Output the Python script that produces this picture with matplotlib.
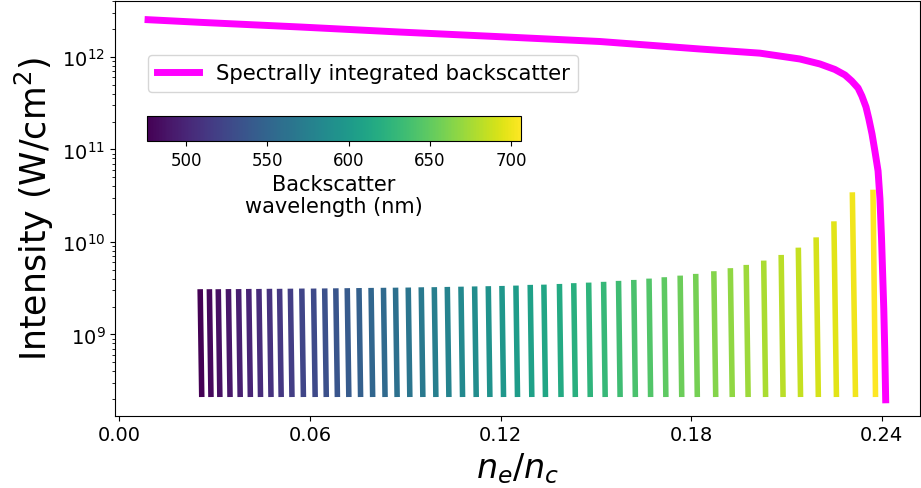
import matplotlib
matplotlib.use("Agg")
import matplotlib.pyplot as plt
from matplotlib.colors import Normalize
from matplotlib.cm import ScalarMappable
from matplotlib.ticker import FixedLocator, FormatStrFormatter

# Spectrally integrated backscatter intensity vs density
ne_int = [0.0090, 0.0253, 0.0568, 0.0883, 0.1176, 0.1512, 0.1827, 0.2016,
          0.2142, 0.2205, 0.2252, 0.2284, 0.2305, 0.2325, 0.2337, 0.2350,
          0.2359, 0.2369, 0.2378, 0.2388, 0.2394, 0.2399, 0.2403, 0.2406,
          0.2409, 0.2412]
I_int = [2.53e12, 2.37e12, 2.11e12, 1.86e12, 1.67e12, 1.47e12, 1.22e12, 1.10e12,
         9.51e11, 8.40e11, 7.33e11, 6.38e11, 5.50e11, 4.62e11, 3.79e11, 2.88e11,
         2.14e11, 1.47e11, 9.63e10, 5.86e10, 2.92e10, 1.08e10, 3.98e9, 1.89e9,
         6.97e8, 1.96e8]

# Spectrally resolved backscatter: one line per wavelength
wavelength_nm = [476, 481, 485, 490, 495, 499, 504, 509, 513, 518,
                 523, 527, 532, 537, 541, 546, 551, 555, 560, 565,
                 569, 574, 579, 584, 588, 593, 598, 602, 607, 612,
                 616, 621, 626, 630, 635, 640, 644, 649, 654, 658,
                 663, 668, 672, 677, 682, 686, 691, 696, 701, 706]
ne_top = [0.0254, 0.0283, 0.0311, 0.0343, 0.0375, 0.0407, 0.0439, 0.0472, 0.0504, 0.0538,
          0.0574, 0.0611, 0.0646, 0.0681, 0.0717, 0.0754, 0.0792, 0.0831, 0.0869, 0.0909,
          0.0950, 0.0991, 0.1032, 0.1075, 0.1118, 0.1161, 0.1204, 0.1248, 0.1293, 0.1336,
          0.1385, 0.1430, 0.1477, 0.1524, 0.1571, 0.1619, 0.1667, 0.1715, 0.1765, 0.1814,
          0.1871, 0.1923, 0.1973, 0.2028, 0.2083, 0.2137, 0.2193, 0.2249, 0.2307, 0.2372]
ne_bottom = [0.0259, 0.0288, 0.0316, 0.0348, 0.0380, 0.0412, 0.0444, 0.0477, 0.0509, 0.0543,
             0.0579, 0.0616, 0.0651, 0.0686, 0.0722, 0.0759, 0.0797, 0.0836, 0.0874, 0.0914,
             0.0955, 0.0996, 0.1037, 0.1080, 0.1123, 0.1166, 0.1209, 0.1253, 0.1298, 0.1341,
             0.1390, 0.1435, 0.1482, 0.1529, 0.1576, 0.1624, 0.1672, 0.1720, 0.1770, 0.1819,
             0.1877, 0.1929, 0.1979, 0.2034, 0.2089, 0.2144, 0.2200, 0.2257, 0.2317, 0.2380]
I_top = [3.08e9, 3.08e9, 3.08e9, 3.09e9, 3.09e9, 3.10e9, 3.10e9, 3.11e9, 3.11e9, 3.12e9,
         3.13e9, 3.13e9, 3.14e9, 3.15e9, 3.16e9, 3.17e9, 3.18e9, 3.19e9, 3.20e9, 3.21e9,
         3.23e9, 3.24e9, 3.26e9, 3.28e9, 3.30e9, 3.32e9, 3.34e9, 3.37e9, 3.43e9, 3.45e9,
         3.51e9, 3.58e9, 3.63e9, 3.70e9, 3.79e9, 3.88e9, 4.01e9, 4.15e9, 4.32e9, 4.51e9,
         4.82e9, 5.20e9, 5.64e9, 6.28e9, 7.23e9, 8.67e9, 1.12e10, 1.67e10, 3.44e10, 3.67e10]
I_bottom = 2.1e8

xticks = [0.00, 0.06, 0.12, 0.18, 0.24]
cbar_ticks = [500, 550, 600, 650, 700]

fig = plt.figure(figsize=(9.21, 4.89), dpi=100)
ax = fig.add_axes([0.1249, 0.1479, 0.874, 0.848])

cmap = plt.get_cmap("viridis")
norm = Normalize(vmin=min(wavelength_nm), vmax=max(wavelength_nm))

for wl, x0, x1, i0 in zip(wavelength_nm, ne_top, ne_bottom, I_top):
    ax.plot([x0, x1], [i0, I_bottom], color=cmap(norm(wl)), lw=4,
            solid_capstyle="butt")

ax.plot(ne_int, I_int, color="magenta", lw=5,
        label="Spectrally integrated backscatter")

ax.set_yscale("log")
ax.set_xlim(-0.0014, 0.2520)
ax.set_ylim(1.32e8, 4.03e12)
ax.xaxis.set_major_locator(FixedLocator(xticks))
ax.xaxis.set_major_formatter(FormatStrFormatter("%.2f"))
ax.tick_params(labelsize=14)
ax.set_xlabel("$n_e/n_c$", fontsize=24)
ax.set_ylabel("Intensity (W/cm$^2$)", fontsize=25)

ax.legend(loc="upper left", bbox_to_anchor=(0.1607, 0.8855),
          bbox_transform=fig.transFigure, borderaxespad=0, fontsize=15.3)

# wavelength colour scale, inset inside the axes
cax = fig.add_axes([0.1596, 0.7096, 0.4061, 0.0511])
cb = fig.colorbar(ScalarMappable(norm=norm, cmap=cmap), cax=cax,
                  orientation="horizontal")
cb.set_ticks(cbar_ticks)
cb.ax.tick_params(labelsize=12)
cb.set_label("Backscatter\nwavelength (nm)", fontsize=15, linespacing=1.1)

fig.savefig("out.png", dpi=100)
